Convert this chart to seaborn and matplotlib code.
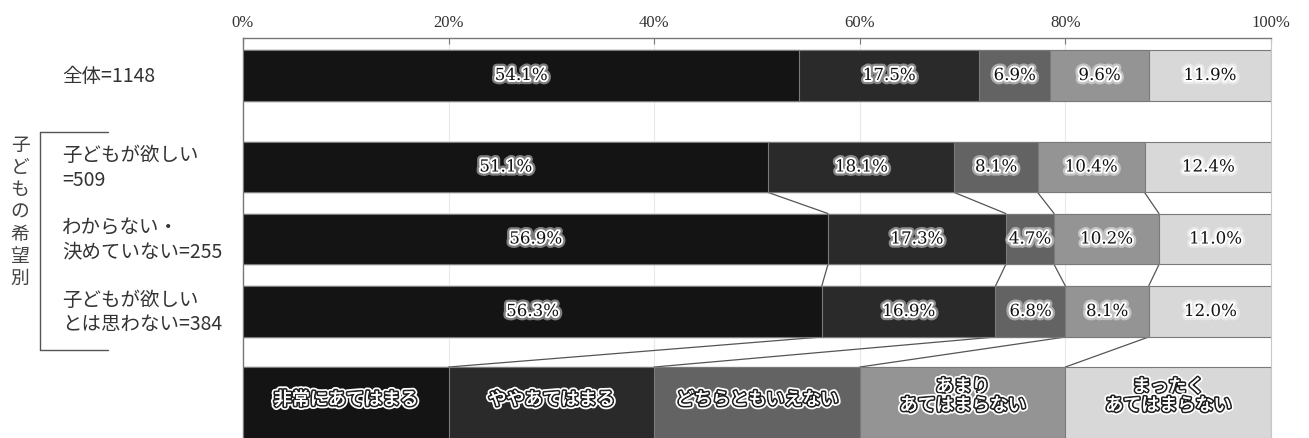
import matplotlib
matplotlib.use("Agg")
import matplotlib.pyplot as plt
import matplotlib.patheffects as pe
from matplotlib.lines import Line2D
import numpy as np
import pandas as pd
import seaborn as sns

# ---- data ----
row_labels = ["全体=1148", "子どもが欲しい\n=509", "わからない・\n決めていない=255", "子どもが欲しい\nとは思わない=384"]
categories = ["非常にあてはまる", "ややあてはまる", "どちらともいえない", "あまり\nあてはまらない", "まったく\nあてはまらない"]
v_strong = [54.1, 51.1, 56.9, 56.3]
v_some = [17.5, 18.1, 17.3, 16.9]
v_neutral = [6.9, 8.1, 4.7, 6.8]
v_notmuch = [9.6, 10.4, 10.2, 8.1]
v_notatall = [11.9, 12.4, 11.0, 12.0]
tick_values = [0, 20, 40, 60, 80, 100]
tick_labels = ["0%", "20%", "40%", "60%", "80%", "100%"]
group_label = "子どもの希望別"

series = [v_strong, v_some, v_neutral, v_notmuch, v_notatall]
colors = ["#141414", "#2a2a2a", "#636363", "#949494", "#d8d8d8"]

sns.set_theme(style="white")
plt.rcParams['font.family'] = ['Noto Sans CJK JP', 'DejaVu Sans']

W, H = 1309, 439
fig = plt.figure(figsize=(W / 100, H / 100), dpi=100)
ax_left, ax_right, ax_top = 243, 1271, 39
ax = fig.add_axes([ax_left / W, 0, (ax_right - ax_left) / W, (H - ax_top) / H])

# layout positions (rows in units of 72 px)
ypos = [0.0, 1.271, 2.271, 3.278]
bar_h = 0.708
leg_y = 4.556
leg_h = 1.014

vals = np.array(series)            # (5 cats, 4 rows)
cum = np.cumsum(vals, axis=0)      # cumulative right edges

rows = []
for ci, cat in enumerate(categories):
    for ri in range(len(row_labels)):
        rows.append({"y": ypos[ri], "cum": cum[ci, ri], "val": vals[ci, ri], "cat": cat})
df = pd.DataFrame(rows)

palette = dict(zip(categories, colors))
hue_order = categories[::-1]

sns.barplot(data=df, x="cum", y="y", hue="cat", hue_order=hue_order, palette=palette,
            orient="y", native_scale=True, dodge=False, width=bar_h, legend=False,
            edgecolor="#7a7a7a", linewidth=0.8, saturation=1, ax=ax, zorder=3)

# legend strip as an equal-width stacked bar
n = len(categories)
leg_df = pd.DataFrame({"y": [leg_y] * n,
                       "cum": [100 * (i + 1) / n for i in range(n)],
                       "cat": categories})
sns.barplot(data=leg_df, x="cum", y="y", hue="cat", hue_order=hue_order, palette=palette,
            orient="y", native_scale=True, dodge=False, width=leg_h, legend=False,
            edgecolor="#7a7a7a", linewidth=0.8, saturation=1, ax=ax, zorder=3)

# percent labels
halo = [pe.withStroke(linewidth=6, foreground="white", alpha=0.45),
        pe.withStroke(linewidth=2.8, foreground="white")]
for ci in range(n):
    for ri in range(len(row_labels)):
        xc = cum[ci, ri] - vals[ci, ri] / 2
        ax.text(xc, ypos[ri], f"{vals[ci, ri]:.1f}%", ha="center", va="center",
                fontsize=12, color="#111111", family=["DejaVu Serif"],
                path_effects=halo, zorder=5)

# legend labels
leg_fx = [pe.withStroke(linewidth=5, foreground="white"),
          pe.withStroke(linewidth=2.5, foreground="#222222"),
          pe.Normal()]
for i, cat in enumerate(categories):
    xc = 100 * (i + 0.5) / n
    yc = leg_y - 0.05 if "\n" not in cat else leg_y - 0.1
    ax.text(xc, yc, cat, ha="center", va="center", fontsize=13, color="white",
            fontweight="medium", linespacing=1.05, path_effects=leg_fx, zorder=5)

# connector lines
for ri in range(len(row_labels) - 1):
    if ri == 0:
        continue
    for k in range(n - 1):
        ax.plot([cum[k, ri], cum[k, ri + 1]],
                [ypos[ri] + bar_h / 2, ypos[ri + 1] - bar_h / 2],
                color="#555555", lw=0.9, zorder=2)
last = len(row_labels) - 1
for k in range(n - 1):
    ax.plot([cum[k, last], 100 * (k + 1) / n],
            [ypos[last] + bar_h / 2, leg_y - leg_h / 2],
            color="#555555", lw=0.9, zorder=2)

# axes styling
ax.set_xlim(0, 100)
ax.set_ylim(5.035, -0.521)
ax.set_xticks(tick_values)
ax.set_xticklabels(tick_labels, family=["Liberation Serif"], fontsize=12, color="#333333")
ax.xaxis.tick_top()
ax.tick_params(axis="x", direction="in", length=4, width=0.8, color="#777777", pad=6, top=True, bottom=False)
ax.set_yticks([])
ax.set_xlabel("")
ax.set_ylabel("")
for g in tick_values[1:-1]:
    ax.axvline(g, color="#e9e9e9", lw=0.8, zorder=0)
for s in ["top", "left"]:
    ax.spines[s].set_visible(True)
    ax.spines[s].set_color("#777777")
    ax.spines[s].set_linewidth(1.0)
ax.spines["right"].set_visible(True)
ax.spines["right"].set_color("#c8c8c8")
ax.spines["right"].set_linewidth(0.8)
ax.spines["bottom"].set_visible(False)

# row labels (figure pixel coords)
def fx(px):
    return px / W

def fy(py):
    return 1 - py / H

row_label_y = [76.5, 168, 240, 312.5]
for lab, py in zip(row_labels, row_label_y):
    fig.text(fx(62), fy(py), lab, ha="left", va="center", fontsize=14,
             color="#333333", linespacing=1.2)

# bracket
for (x0, y0, x1, y1) in [(40, 133, 40, 351), (40, 133, 108, 133), (40, 351, 108, 351)]:
    fig.add_artist(Line2D([fx(x0), fx(x1)], [fy(y0), fy(y1)], color="#555555", lw=1.0))

fig.text(fx(20), fy(212), "\n".join(group_label), ha="center", va="center",
         fontsize=13.5, color="#444444", linespacing=1.08)

fig.savefig("out.png", dpi=100, facecolor="white")
